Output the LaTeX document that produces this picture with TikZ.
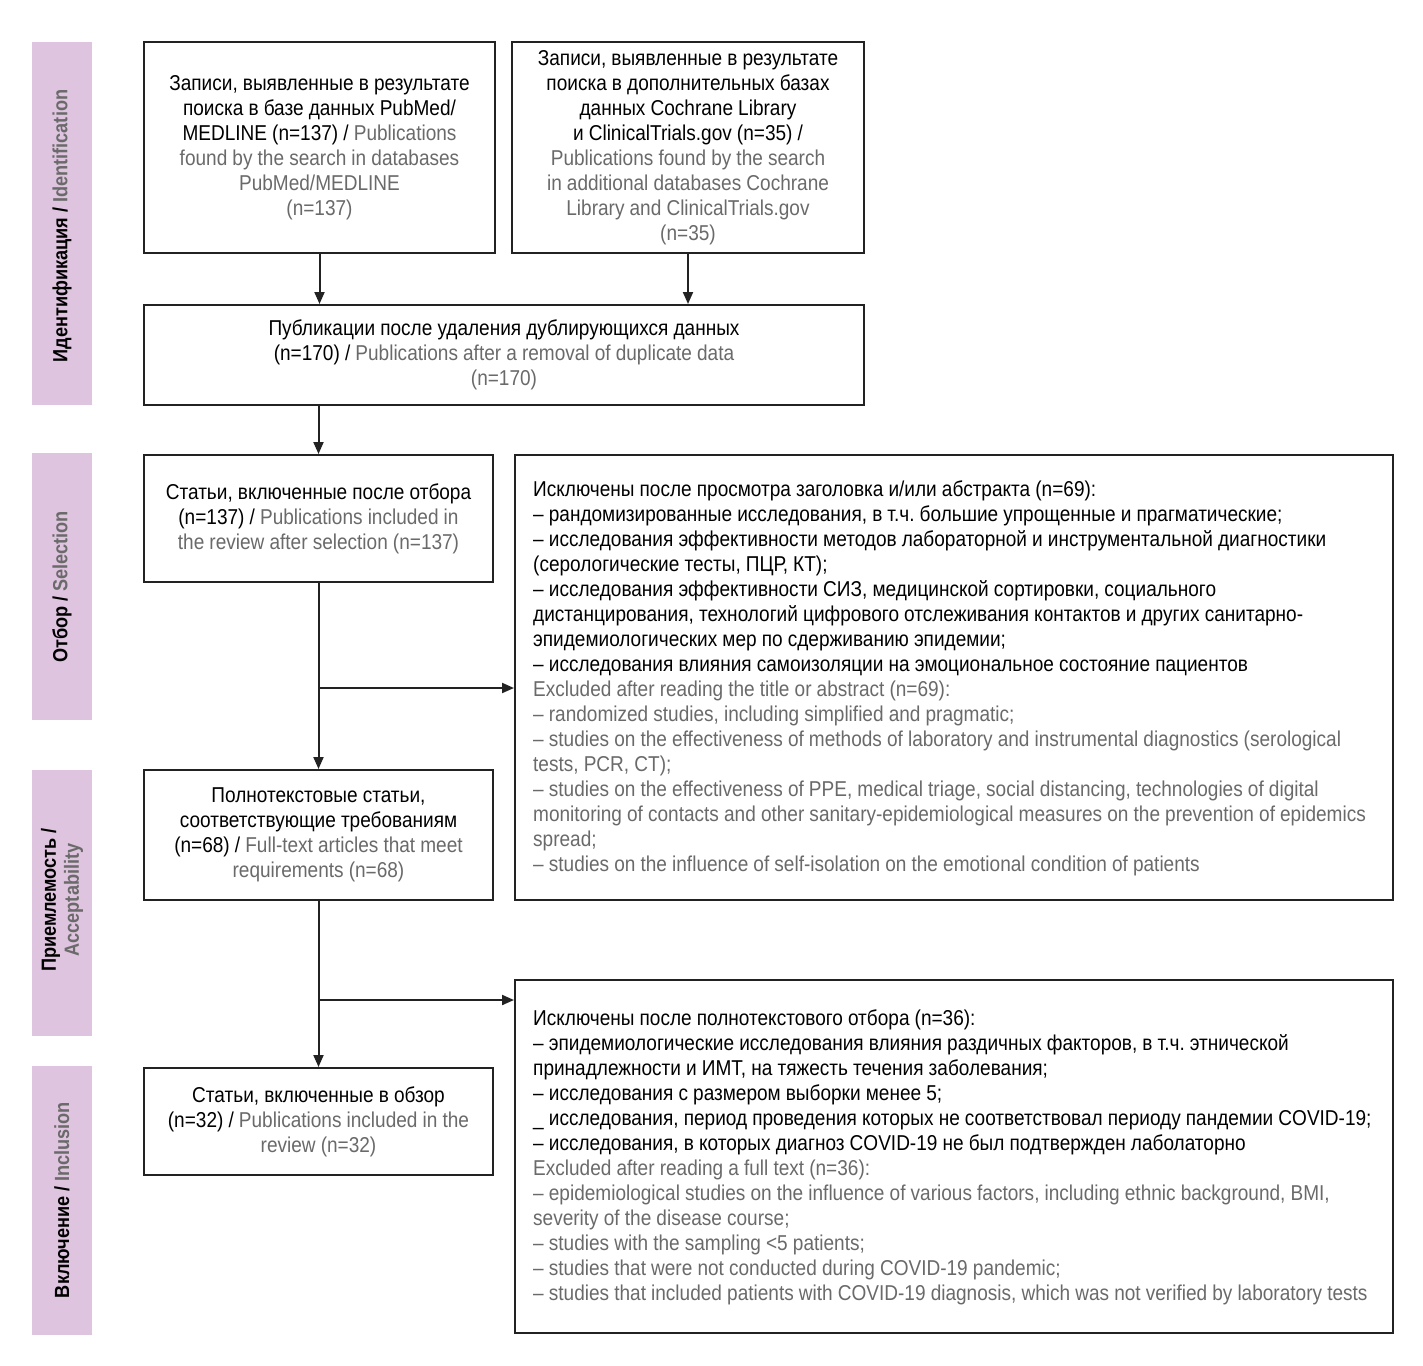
\documentclass[tikz,border=0pt]{standalone}
\usepackage{fontspec}
\setmainfont{Liberation Sans}[FakeStretch=0.885,WordSpace=0.97]
\usetikzlibrary{arrows.meta}
\definecolor{band}{HTML}{DFC4DF}
\definecolor{gr}{HTML}{6A6A6A}
\definecolor{ln}{HTML}{222222}
\newcommand{\g}[1]{{\color{gr}#1}}
\begin{document}
\frenchspacing
\begin{tikzpicture}[x=1pt,y=-1pt,
  txt/.style={font=\fontsize{21.5}{25}\selectfont},
  box/.style={draw=ln,line width=2pt,txt,align=center,inner sep=0pt},
  exbox/.style={draw=ln,line width=2pt,inner sep=0pt},
  extxt/.style={txt,align=left,inner sep=0pt,anchor=west},
  bandtxt/.style={font=\fontsize{20.5}{23}\selectfont\bfseries,rotate=90,align=center},
  arr/.style={draw=ln,line width=2pt,-{Triangle[length=12pt,width=10pt]}},
  ]
\useasboundingbox (0,0) rectangle (1423,1365);
\fill[white] (0,0) rectangle (1423,1365);
% bands
\fill[band] (32,42) rectangle (92,405);
\fill[band] (32,453) rectangle (92,720);
\fill[band] (32,770) rectangle (92,1036);
\fill[band] (32,1066) rectangle (92,1335);
\node[bandtxt] (l1) at (62,226) {Идентификация / \g{Identification}};
\node[bandtxt] (l2) at (62,587) {Отбор / \g{Selection}};
\node[bandtxt] (l3) at (62,900) {Приемлемость /\\ \g{Acceptability}};
\node[bandtxt] (l4) at (62,1200) {Включение / \g{Inclusion}};
% boxes
\node[box,minimum width=351pt,minimum height=211pt] (b1) at (319.5,147.5)
 {Записи, выявленные в результате\\
  поиска в базе данных PubMed/\\
  MEDLINE (n=137) / \g{Publications}\\
  \g{found by the search in databases}\\
  \g{PubMed/MEDLINE}\\
  \g{(n=137)}};
\node[box,minimum width=352pt,minimum height=211pt] (b2) at (688,147.5)
 {Записи, выявленные в результате\\
  поиска в дополнительных базах\\
  данных Cochrane Library\\
  и ClinicalTrials.gov (n=35) /\\
  \g{Publications found by the search}\\
  \g{in additional databases Cochrane}\\
  \g{Library and ClinicalTrials.gov}\\
  \g{(n=35)}};
\node[box,minimum width=720pt,minimum height=100pt] (b3) at (504,355)
 {Публикации после удаления дублирующихся данных\\
  (n=170) / \g{Publications after a removal of duplicate data}\\
  \g{(n=170)}};
\node[box,minimum width=349pt,minimum height=127pt] (b4) at (318.5,518.5)
 {Статьи, включенные после отбора\\
  (n=137) / \g{Publications included in}\\
  \g{the review after selection (n=137)}};
\node[box,minimum width=349pt,minimum height=130pt] (b5) at (318.5,835)
 {Полнотекстовые статьи,\\
  соответствующие требованиям\\
  (n=68) / \g{Full-text articles that meet}\\
  \g{requirements (n=68)}};
\node[box,minimum width=349pt,minimum height=107pt] (b6) at (318.5,1121.5)
 {Статьи, включенные в обзор\\
  (n=32) / \g{Publications included in the}\\
  \g{review (n=32)}};
\node[exbox,minimum width=878pt,minimum height=445pt] (e1) at (954,677.5) {};
\node[extxt] (t1) at (533,678)
 {Исключены после просмотра заголовка  и/или абстракта (n=69):\\
  – рандомизированные исследования, в т.ч. большие упрощенные и прагматические;\\
  – исследования эффективности методов лабораторной и инструментальной диагностики\\
  (серологические тесты, ПЦР, КТ);\\
  – исследования эффективности СИЗ, медицинской сортировки, социального\\
  дистанцирования, технологий цифрового отслеживания контактов и других санитарно-\\
  эпидемиологических мер по сдерживанию эпидемии;\\
  – исследования влияния самоизоляции на эмоциональное состояние пациентов\\
  \g{Excluded after reading the title or abstract (n=69):}\\
  \g{– randomized studies, including simplified and pragmatic;}\\
  \g{– studies on the effectiveness of methods of laboratory and instrumental diagnostics (serological}\\
  \g{tests, PCR, CT);}\\
  \g{– studies on the effectiveness of PPE, medical triage, social distancing, technologies of digital}\\
  \g{monitoring of contacts and other sanitary-epidemiological measures on the prevention of epidemics}\\
  \g{spread;}\\
  \g{– studies on the influence of self-isolation on the emotional condition of patients}};
\node[exbox,minimum width=878pt,minimum height=353pt] (e2) at (954,1156.5) {};
\node[extxt] (t2) at (533,1157.5)
 {Исключены после полнотекстового отбора (n=36):\\
  – эпидемиологические исследования влияния раздичных факторов, в т.ч. этнической\\
  принадлежности и ИМТ, на тяжесть течения заболевания;\\
  – исследования с размером выборки менее 5;\\
  \_ исследования, период проведения которых не соответствовал периоду пандемии COVID-19;\\
  – исследования, в которых диагноз COVID-19 не был подтвержден лаболаторно\\
  \g{Excluded after reading a full text (n=36):}\\
  \g{– epidemiological studies on the influence of various factors, including ethnic background, BMI,}\\
  \g{severity of the disease course;}\\
  \g{– studies with the sampling <5 patients;}\\
  \g{– studies that were not conducted during COVID-19 pandemic;}\\
  \g{– studies that included patients with COVID-19 diagnosis, which was not verified by laboratory tests}};
% connectors
\coordinate (j1) at (318.5,688);
\coordinate (j2) at (318.5,1000);
\draw[arr] (b1.south) -- (b1.south |- b3.north);
\draw[arr] (b2.south) -- (b2.south |- b3.north);
\draw[arr] (b4.north |- b3.south) -- (b4.north);
\draw[arr] (b4.south) -- (b5.north);
\draw[arr] (j1) -- (j1 -| e1.west);
\draw[arr] (b5.south) -- (b6.north);
\draw[arr] (j2) -- (j2 -| e2.west);
\end{tikzpicture}
\end{document}
